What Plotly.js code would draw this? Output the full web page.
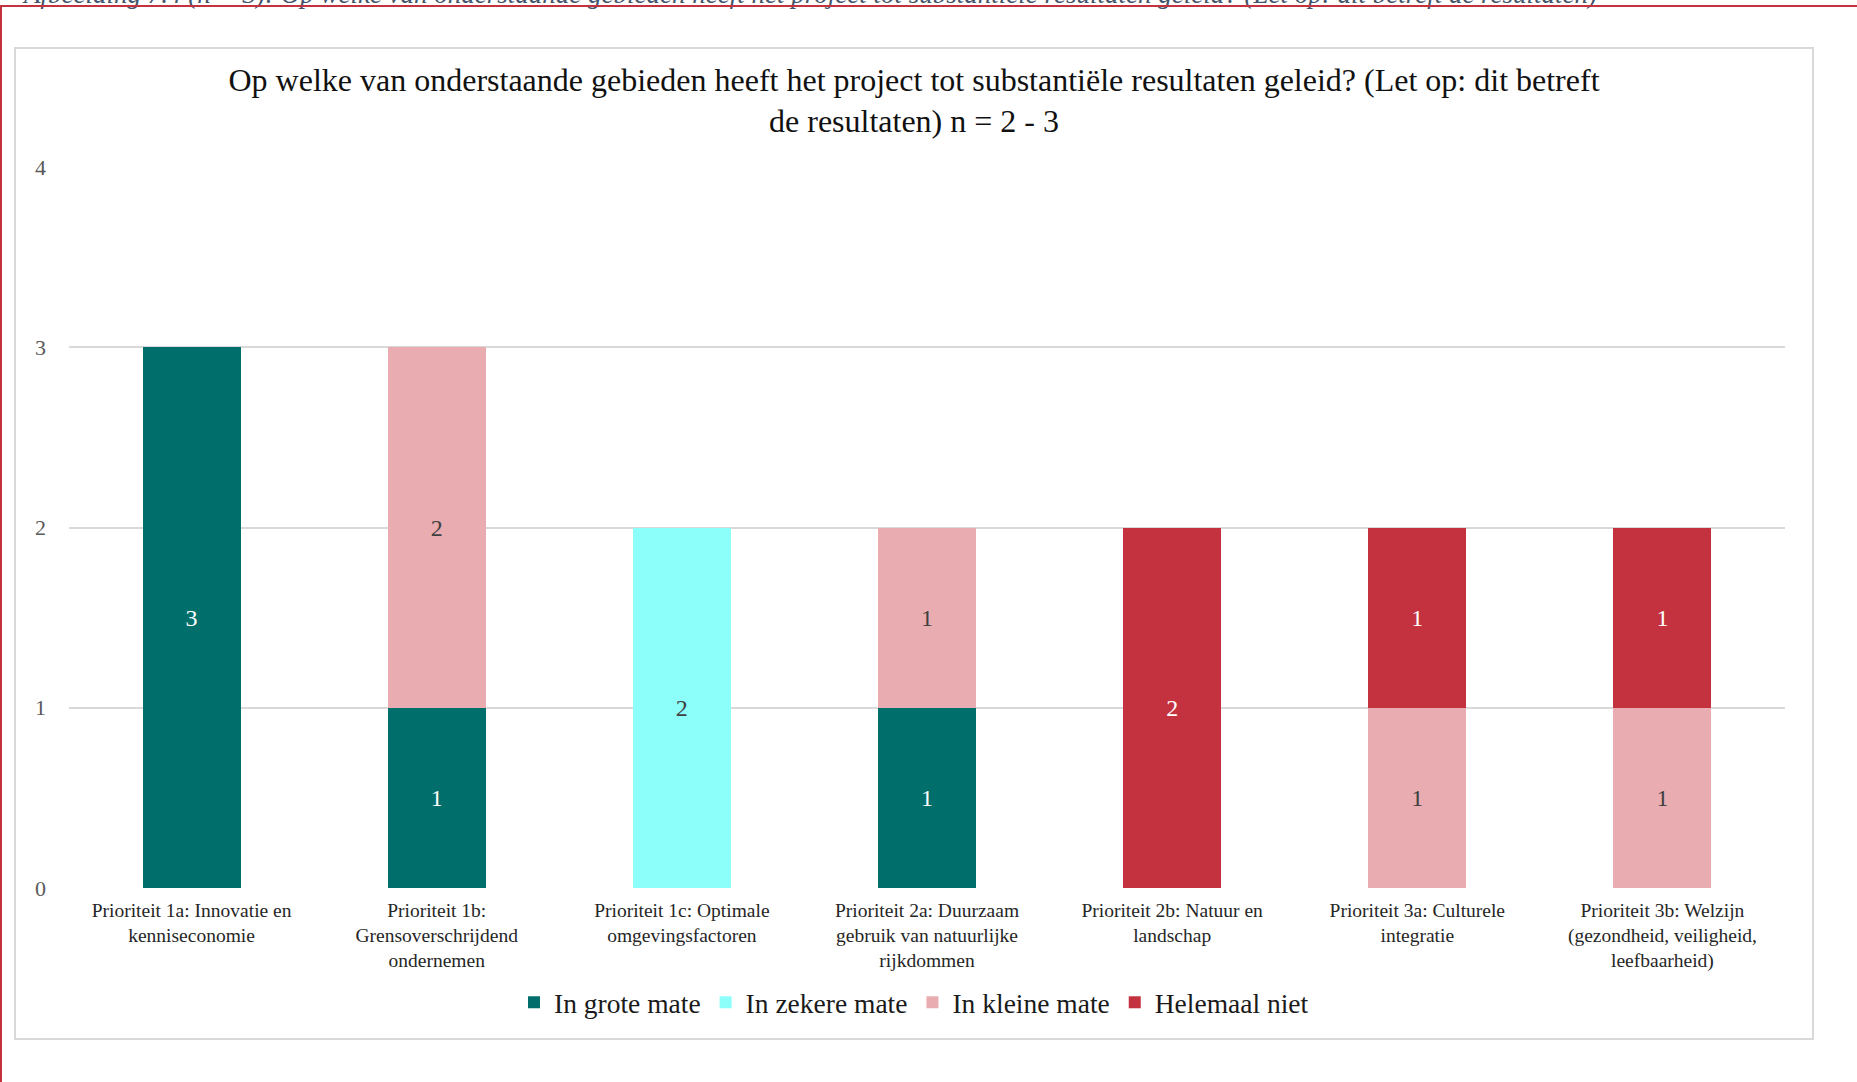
<!DOCTYPE html>
<html>
<head>
<meta charset="utf-8">
<script src="https://cdn.plot.ly/plotly-3.0.1.min.js"></script>
<style>
  html, body { margin: 0; padding: 0; width: 1857px; height: 1082px; overflow: hidden; background: #ffffff; }
  #caption { position: absolute; left: 24px; top: -21px; white-space: nowrap; font-family: "Liberation Serif", serif; font-style: italic; font-size: 27px; color: #44546A; }
  #frame { position: absolute; left: 0; top: 5px; width: 1857px; height: 1100px; border-top: 2px solid #C4323F; border-left: 2px solid #C4323F; box-sizing: border-box; }
  #box { position: absolute; left: 14px; top: 47px; width: 1800px; height: 993px; border: 2px solid #D9D9D9; box-sizing: border-box; background: #ffffff; }
  #chart { width: 1796px; height: 989px; }
</style>
</head>
<body>
<div id="caption">Afbeelding 7.4 (n = 3): Op welke van onderstaande gebieden heeft het project tot substantiële resultaten geleid? (Let op: dit betreft de resultaten)</div>
<div id="frame"></div>
<div id="box"><div id="chart"></div></div>
<script>
const categories = [
  "Prioriteit 1a: Innovatie en<br>kenniseconomie",
  "Prioriteit 1b:<br>Grensoverschrijdend<br>ondernemen",
  "Prioriteit 1c: Optimale<br>omgevingsfactoren",
  "Prioriteit 2a: Duurzaam<br>gebruik van natuurlijke<br>rijkdommen",
  "Prioriteit 2b: Natuur en<br>landschap",
  "Prioriteit 3a: Culturele<br>integratie",
  "Prioriteit 3b: Welzijn<br>(gezondheid, veiligheid,<br>leefbaarheid)"
];
const seriesNames = ["In grote mate", "In zekere mate", "In kleine mate", "Helemaal niet"];
const inGroteMate   = [3, 1, null, 1, null, null, null];
const inZekereMate  = [null, null, 2, null, null, null, null];
const inKleineMate  = [null, 2, null, 1, null, 1, 1];
const helemaalNiet  = [null, null, null, null, 2, 1, 1];
const yTicks = [0, 1, 2, 3, 4];
const titleText = "Op welke van onderstaande gebieden heeft het project tot substantiële resultaten geleid? (Let op: dit betreft<br>de resultaten) n = 2 - 3";

const colors = ["#006E6A", "#8CFFFB", "#E8ACB1", "#C4323F"];
const textColors = ["#FFFFFF", "#404040", "#404040", "#FFFFFF"];
const values = [inGroteMate, inZekereMate, inKleineMate, helemaalNiet];
const FONT = "'Liberation Serif', 'Times New Roman', serif";

const traces = values.map((v, i) => ({
  type: "bar",
  name: seriesNames[i],
  x: categories,
  y: v,
  marker: { color: colors[i], line: { width: 0 } },
  text: v.map(d => d === null ? "" : String(d)),
  texttemplate: "%{text}",
  textposition: "inside",
  insidetextanchor: "middle",
  constraintext: "none",
  textfont: { family: FONT, size: 24, color: textColors[i] },
  hoverinfo: "skip"
}));

const layout = {
  width: 1796,
  height: 989,
  barmode: "stack",
  bargap: 0.6,
  paper_bgcolor: "#ffffff",
  plot_bgcolor: "#ffffff",
  margin: { l: 53, r: 27, t: 118, b: 150 },
  font: { family: FONT, color: "#262626" },
  title: {
    text: titleText,
    font: { family: FONT, size: 32, color: "#111111" },
    x: 0.5, xref: "container", xanchor: "center",
    y: 0.958, yref: "container", yanchor: "middle"
  },
  xaxis: {
    type: "category",
    showgrid: false,
    showline: false,
    zeroline: false,
    ticks: "",
    ticklabelstandoff: 8,
    tickfont: { family: FONT, size: 19.5, color: "#262626" },
    automargin: false
  },
  yaxis: {
    range: [0, 4],
    tickvals: yTicks,
    showgrid: true,
    gridcolor: "#D9D9D9",
    gridwidth: 2,
    zeroline: false,
    showline: false,
    ticks: "",
    ticklabelstandoff: 22,
    tickfont: { family: FONT, size: 22, color: "#595959" },
    automargin: false
  },
  showlegend: true,
  legend: {
    orientation: "h",
    xref: "container", x: 0.5, xanchor: "center",
    yref: "container", y: 0.036, yanchor: "middle",
    font: { family: FONT, size: 27.5, color: "#1A1A1A" },
    itemclick: false, itemdoubleclick: false,
    traceorder: "normal"
  }
};

Plotly.newPlot("chart", traces, layout, { displayModeBar: false, staticPlot: true });
</script>
</body>
</html>
